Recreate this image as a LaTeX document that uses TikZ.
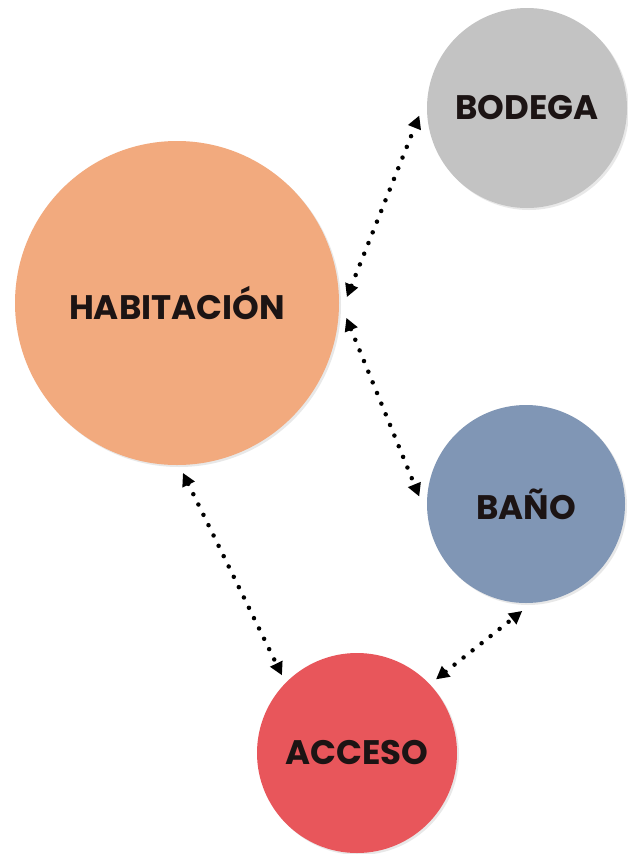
\documentclass[tikz,border=0pt]{standalone}
\usepackage{fontspec}
\setmainfont{Poppins}
\usetikzlibrary{arrows.meta,shadows}
\definecolor{habcol}{HTML}{F2AA7E}
\definecolor{bodcol}{HTML}{C3C3C3}
\definecolor{bancol}{HTML}{8096B5}
\definecolor{acccol}{HTML}{E8565B}
\definecolor{txtcol}{HTML}{1C1414}
\begin{document}
\begin{tikzpicture}[x=1pt,y=-1pt,
    sala/.style={circle, inner sep=0pt, outer sep=8pt, text=txtcol,
        font=\fontsize{34}{38}\selectfont\bfseries,
        drop shadow={opacity=0.18, shadow xshift=2pt, shadow yshift=-2pt}},
    enlace/.style={line width=4.5pt, line cap=round, dash pattern=on 0pt off 11.5pt,
        {Triangle[length=13pt,width=13pt]}-{Triangle[length=13pt,width=13pt]}}]
    \useasboundingbox (0,0) rectangle (627,854);
    \fill[white] (0,0) rectangle (627,854);

    % Circles
    \node[sala, fill=habcol, minimum size=324pt] (hab) at (177,303) {HABITACIÓN};
    \node[sala, fill=bodcol, minimum size=200pt] (bod) at (527,108) {BODEGA};
    \node[sala, fill=bancol, minimum size=198pt] (ban) at (526,504) {BAÑO};
    \node[sala, fill=acccol, minimum size=200pt] (acc) at (357,753) {ACCESO};

    % Arrows
    \draw[enlace] (hab.2) -- (bod.184);
    \draw[enlace] (hab.-5) -- (ban.176);
    \draw[enlace] (hab.-88) -- (acc.134);
    \draw[enlace] (acc.43) -- (ban.-92);
\end{tikzpicture}
\end{document}
